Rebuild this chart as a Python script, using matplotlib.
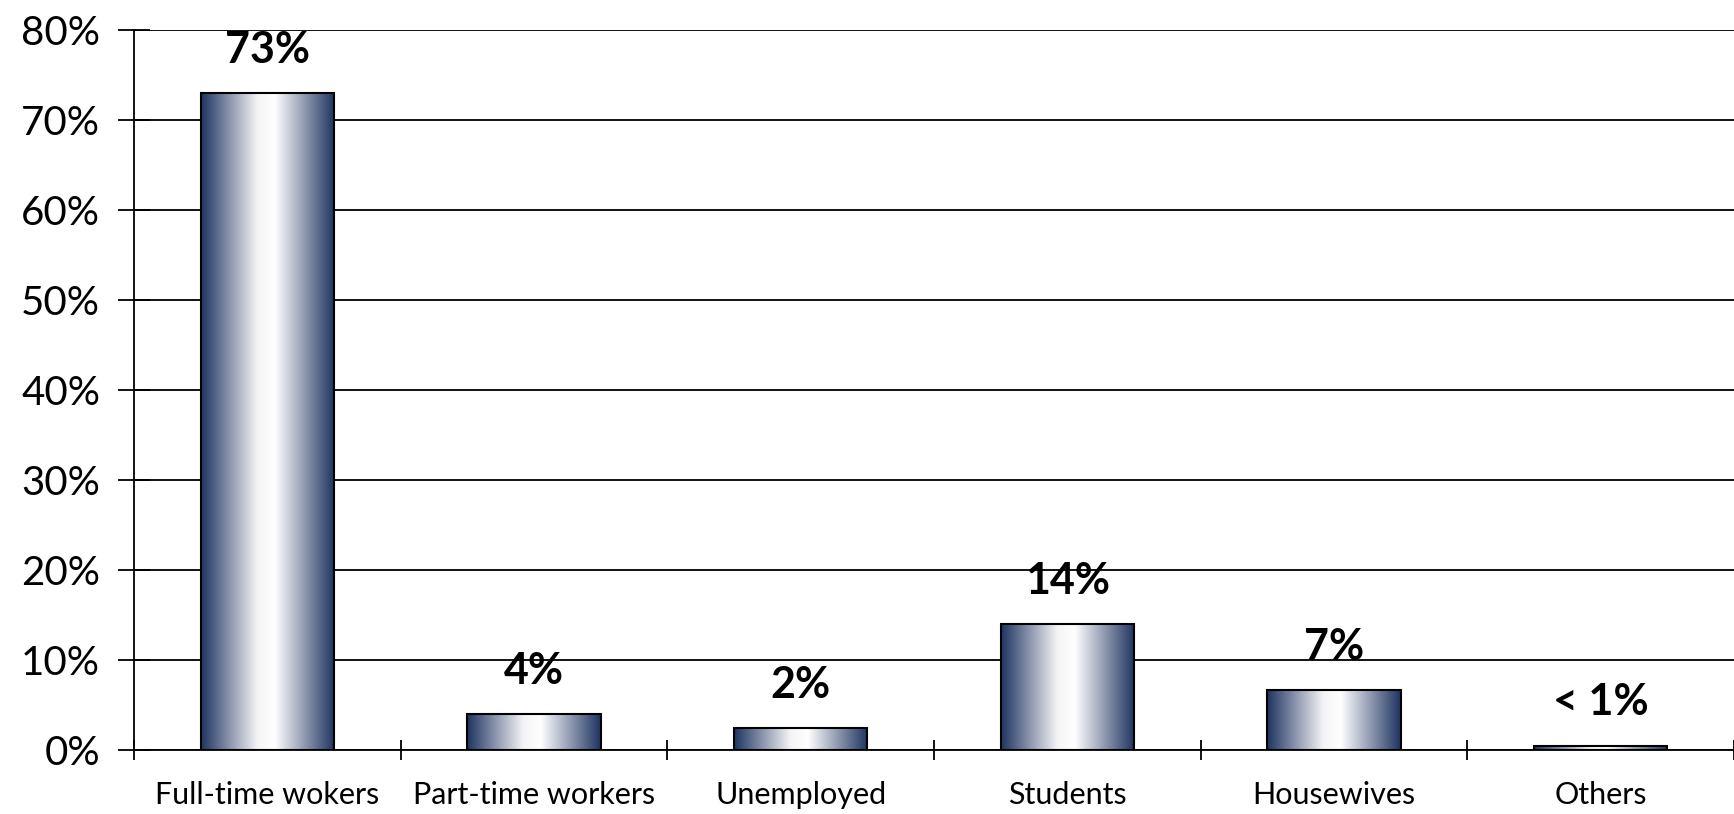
import numpy as np
import matplotlib.pyplot as plt
from matplotlib.colors import LinearSegmentedColormap

categories = ["Full-time wokers", "Part-time workers", "Unemployed",
              "Students", "Housewives", "Others"]
values = [73, 4, 2.4, 14, 6.7, 0.5]
value_labels = ["73%", "4%", "2%", "14%", "7%", "< 1%"]
y_ticks = [0, 10, 20, 30, 40, 50, 60, 70, 80]

plt.rcParams['font.family'] = ['Lato', 'DejaVu Sans']

navy = "#1f3461"
cmap = LinearSegmentedColormap.from_list(
    "bar_grad", [(0, navy), (0.42, "#f4f4f6"), (0.55, "#ffffff"), (1, navy)])
grad = np.linspace(0, 1, 256).reshape(1, -1)

fig = plt.figure(figsize=(17.34, 8.14), dpi=100)
ax = fig.add_axes([0.0773, 0.0786, 0.9227, 0.8845])

x = np.arange(len(categories))
bars = ax.bar(x, values, width=0.5, facecolor="none", edgecolor="black",
              linewidth=1.5, zorder=3)

# gradient fill inside each bar
for b in bars:
    im = ax.imshow(grad, cmap=cmap, aspect="auto", zorder=2.5,
                   extent=[b.get_x(), b.get_x() + b.get_width(), 0, b.get_height()])
    im.set_clip_path(b)

for b, lab in zip(bars, value_labels):
    ax.annotate(lab, (b.get_x() + b.get_width() / 2, b.get_height()),
                xytext=(0, 31), textcoords="offset points",
                ha="center", va="center", fontsize=31, fontweight="bold", zorder=4)

ax.set_xlim(-0.5, len(categories) - 0.5)
ax.set_ylim(0, 80)
ax.set_yticks(y_ticks)
ax.set_yticklabels([f"{t}%" for t in y_ticks])
ax.yaxis.grid(True, color="black", linewidth=1.3)
ax.set_axisbelow(True)

ax.set_xticks(x)
ax.set_xticklabels(categories)
ax.set_xticks(np.arange(len(categories) + 1) - 0.5, minor=True)
ax.tick_params(axis="x", which="major", length=0, pad=22, labelsize=22)
ax.tick_params(axis="x", which="minor", direction="inout", length=15, width=1.3)
ax.tick_params(axis="y", direction="inout", length=23, width=1.3, pad=13, labelsize=29)

for s in ["top", "right"]:
    ax.spines[s].set_visible(False)
for s in ["left", "bottom"]:
    ax.spines[s].set_linewidth(1.3)

fig.savefig("out.png", dpi=100)
